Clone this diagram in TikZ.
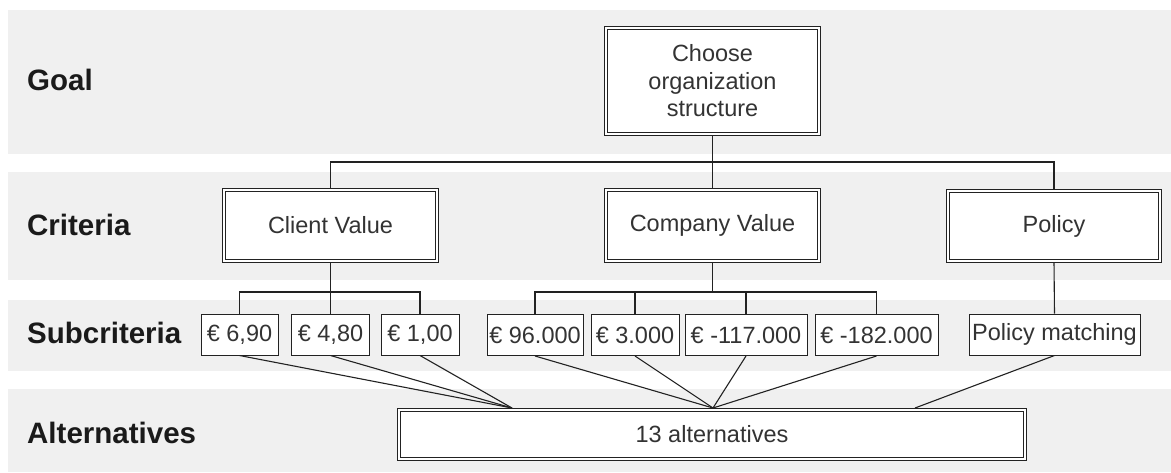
\documentclass[tikz,border=0pt]{standalone}
\usepackage{fontspec}
\setmainfont{Liberation Sans}
\definecolor{band}{HTML}{F0F0F0}
\definecolor{txt}{HTML}{333333}
\definecolor{lbl}{HTML}{1A1A1A}
\definecolor{ln}{HTML}{222222}
\pgfdeclarelayer{bg}
\pgfdeclarelayer{lines}
\pgfsetlayers{bg,lines,main}
\tikzset{
  lvl/.style={anchor=west, text=lbl, font=\fontsize{29.5}{33}\selectfont\bfseries, inner sep=0pt},
  dbox/.style={draw=ln, line width=0.9pt, double=white, double distance=1.8pt, fill=white,
    rectangle, inner sep=0pt, text=txt, font=\fontsize{23.5}{27.5}\selectfont, align=center},
  sbox/.style={draw=ln, line width=1pt, fill=white, rectangle, inner sep=0pt,
    minimum height=41pt, text=txt, font=\fontsize{23.5}{27.5}\selectfont},
  conn/.style={draw=ln, line width=1.1pt},
}
\begin{document}
\begin{tikzpicture}[x=1pt, y=-1pt]
\useasboundingbox (0,0) rectangle (1171,472);
\begin{pgfonlayer}{bg}
  \fill[white] (0,0) rectangle (1171,472);
  \fill[band] (8,10) rectangle (1171,154);
  \fill[band] (8,172) rectangle (1171,280);
  \fill[band] (8,300) rectangle (1171,371);
  \fill[band] (8,389) rectangle (1171,472);
\end{pgfonlayer}

% level labels
\node[lvl] (lgoal) at (27,80) {Goal};
\node[lvl] (lcrit) at (27,225) {Criteria};
\node[lvl] (lsub) at (27,333) {Subcriteria};
\node[lvl] (lalt) at (27,433) {Alternatives};

% goal
\node[dbox, minimum width=213.5pt, minimum height=106.5pt] (goal) at (712.5,81)
  {Choose\\organization\\structure};

% criteria
\node[dbox, minimum width=213.5pt, minimum height=71.5pt] (cv) at (330.5,225.5) {Client Value};
\node[dbox, minimum width=213.5pt, minimum height=71.5pt] (comp) at (712.5,225.5) {Company Value};
\node[dbox, minimum width=212.5pt, minimum height=70.5pt] (pol) at (1054,226) {Policy};

% subcriteria
\node[sbox, minimum width=77pt] (s1) at (239.5,334.5) {€ 6,90};
\node[sbox, minimum width=78pt] (s2) at (330.5,334.5) {€ 4,80};
\node[sbox, minimum width=78pt] (s3) at (420,334.5) {€ 1,00};
\node[sbox, minimum width=96pt] (s4) at (535,335) {€ 96.000};
\node[sbox, minimum width=88pt] (s5) at (635,335) {€ 3.000};
\node[sbox, minimum width=122pt] (s6) at (746,335) {€ -117.000};
\node[sbox, minimum width=123pt] (s7) at (876.5,335) {€ -182.000};
\node[sbox, minimum width=171pt] (pm) at (1054.5,334.5) {Policy matching};

% alternatives
\node[dbox, minimum width=626.5pt, minimum height=49.5pt] (alt) at (712,434.5) {13 alternatives};

% connector points
\coordinate (b1) at (712.5,162);
\coordinate (b2) at (330.5,292);
\coordinate (b3) at (712.5,292);
\coordinate (ca) at (512,408);
\coordinate (cb) at (713,408);
\coordinate (cc) at (915,408);

\begin{pgfonlayer}{lines}
  \draw[conn] (goal.south) -- (b1);
  \draw[conn] (cv.north) |- (b1) -| (pol.north);
  \draw[conn] (comp.north) -- (b1);

  \draw[conn] (cv.south) -- (b2);
  \draw[conn] (s1.north) |- (b2) -| (s3.north);
  \draw[conn] (s2.north) -- (b2);

  \draw[conn] (comp.south) -- (b3);
  \draw[conn] (s4.north) |- (b3) -| (s7.north);
  \draw[conn] (s5.north) |- (b3);
  \draw[conn] (s6.north) |- (b3);

  \draw[conn] (pol.south) -- (pm.north);

  \draw[conn] (s1.south) -- (ca);
  \draw[conn] (s2.south) -- (ca);
  \draw[conn] (s3.south) -- (ca);
  \draw[conn] (s4.south) -- (cb);
  \draw[conn] (s5.south) -- (cb);
  \draw[conn] (s6.south) -- (cb);
  \draw[conn] (s7.south) -- (cb);
  \draw[conn] (pm.south) -- (cc);
\end{pgfonlayer}
\end{tikzpicture}
\end{document}
